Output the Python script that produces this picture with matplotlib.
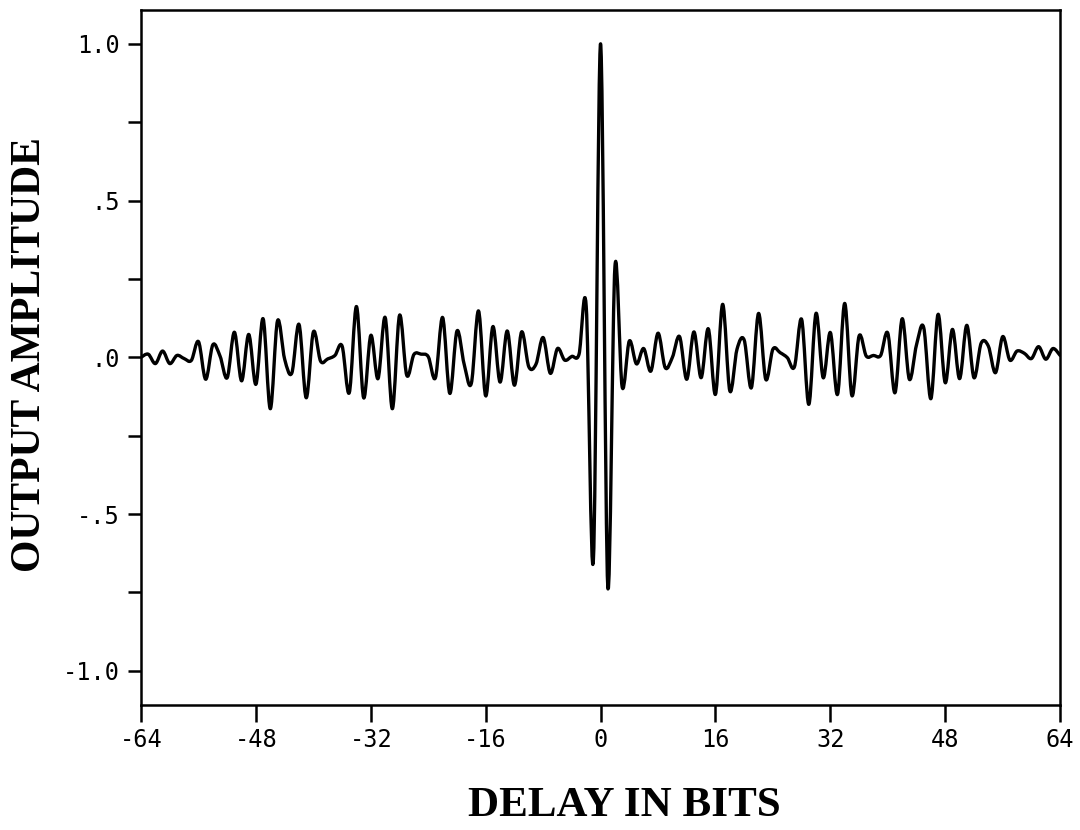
import numpy as np
import matplotlib
matplotlib.use("Agg")
import matplotlib.pyplot as plt
from matplotlib.path import Path
from matplotlib.patches import PathPatch

# output amplitude read at each integer delay, -64 .. 64
delay_bits = list(range(-64, 65))
amplitude = [
    0.0, 0.01, -0.02, 0.02, -0.02, 0.006, -0.004, -0.01,          # -64 .. -57
    0.05, -0.07, 0.04, 0.004, -0.065, 0.08, -0.075, 0.073,        # -56 .. -49
    -0.086, 0.123, -0.164, 0.116, -0.006, -0.05, 0.105, -0.129,   # -48 .. -41
    0.081, -0.012, -0.005, 0.006, 0.036, -0.113, 0.162, -0.129,   # -40 .. -33
    0.07, -0.068, 0.127, -0.164, 0.134, -0.057, 0.009, 0.01,      # -32 .. -25
    0.002, -0.065, 0.127, -0.115, 0.084, -0.022, -0.083, 0.148,   # -24 .. -17
    -0.123, 0.098, -0.079, 0.084, -0.089, 0.081, -0.03, -0.022,   # -16 .. -9
    0.063, -0.051, 0.028, -0.009, 0.003, 0.01, 0.162, -0.645,     # -8 .. -1
    1.0,                                                          # 0
    -0.73, 0.29, -0.094, 0.052, -0.021, 0.028, -0.044, 0.077,     # 1 .. 8
    -0.033, 0.0, 0.066, -0.07, 0.081, -0.065, 0.091, -0.118,      # 9 .. 16
    0.169, -0.107, 0.026, 0.055, -0.097, 0.14, -0.07, 0.026,      # 17 .. 24
    0.015, -0.001, -0.03, 0.121, -0.15, 0.14, -0.065, 0.079,      # 25 .. 32
    -0.118, 0.172, -0.122, 0.068, 0.004, 0.006, 0.006, 0.077,     # 33 .. 40
    -0.113, 0.123, -0.07, 0.04, 0.095, -0.132, 0.137, -0.081,     # 41 .. 48
    0.089, -0.068, 0.102, -0.065, 0.045, 0.036, -0.049, 0.066,    # 49 .. 56
    -0.009, 0.02, 0.013, -0.004, 0.034, -0.006, 0.028, 0.006,     # 57 .. 64
]

x_ticks = [-64, -48, -32, -16, 0, 16, 32, 48, 64]
y_ticks = [-1.0, -0.75, -0.5, -0.25, 0.0, 0.25, 0.5, 0.75, 1.0]
y_tick_labels = ["-1.0", "", "-.5", "", ".0", "", ".5", "", "1.0"]


def smooth_path(xs, ys):
    # catmull-rom through the samples, drawn as cubic bezier segments
    pts = np.column_stack([xs, ys]).astype(float)
    padded = np.vstack([pts[0], pts, pts[-1]])
    verts = [pts[0]]
    codes = [Path.MOVETO]
    for i in range(len(pts) - 1):
        p0, p1, p2, p3 = padded[i], padded[i + 1], padded[i + 2], padded[i + 3]
        verts += [p1 + (p2 - p0) / 6, p2 - (p3 - p1) / 6, p2]
        codes += [Path.CURVE4] * 3
    return Path(verts, codes)


plt.rcParams["axes.unicode_minus"] = False
fig = plt.figure(figsize=(10.8, 8.3), dpi=100)
ax = fig.add_axes([0.1306, 0.151, 0.851, 0.837])

ax.add_patch(PathPatch(smooth_path(delay_bits, amplitude), fill=False,
                       lw=2.4, ec="black", capstyle="round", joinstyle="round"))

ax.set_xlim(-64, 64)
ax.set_ylim(-1.108, 1.108)
ax.set_xticks(x_ticks)
ax.set_xticklabels([str(t) for t in x_ticks], family="DejaVu Sans Mono", fontsize=17)
ax.set_yticks(y_ticks)
ax.set_yticklabels(y_tick_labels, family="DejaVu Sans Mono", fontsize=17)
ax.tick_params(axis="x", direction="out", length=12, width=1.8, pad=5)
ax.tick_params(axis="y", direction="out", length=9.5, width=1.8, pad=6)
for s in ax.spines.values():
    s.set_linewidth(1.8)

fig.text(624 / 1080, 1 - 806 / 830, "DELAY IN BITS", ha="center", va="center",
         family="Liberation Serif", weight="bold", fontsize=31)
fig.text(30 / 1080, 1 - 355 / 830, "OUTPUT AMPLITUDE", ha="center", va="center",
         rotation=90, family="Liberation Serif", weight="bold", fontsize=30)

fig.savefig("out.png", dpi=100)
